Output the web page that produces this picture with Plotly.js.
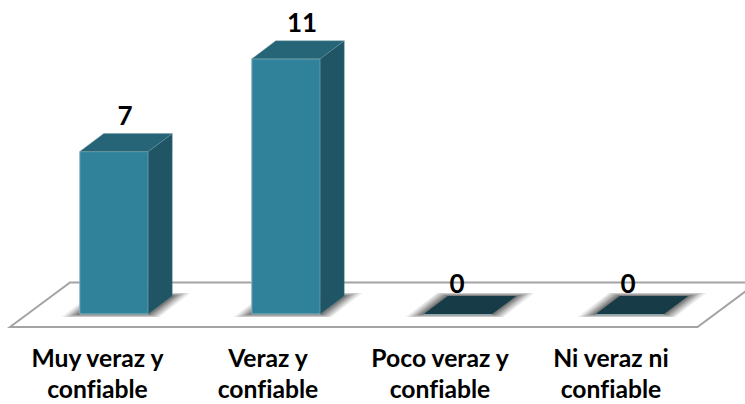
<!DOCTYPE html>
<html>
<head>
<meta charset="utf-8">
<script src="https://cdn.plot.ly/plotly-3.0.1.min.js"></script>
<style>html,body{margin:0;padding:0;background:#fff;overflow:hidden}
svg text, svg tspan{font-variant-ligatures:none !important;font-feature-settings:"liga" 0,"clig" 0,"dlig" 0 !important;letter-spacing:0.01px}</style>
</head>
<body>
<div id="chart" style="width:745px;height:404px"></div>
<script>
const categories = ["Muy veraz y", "Veraz y", "Poco veraz y", "Ni veraz ni"];
const categories2 = ["confiable", "confiable", "confiable", "confiable"];
const values = [7, 11, 0, 0];

// Scales: one category = 172px, one value unit = 23.2px
const W = 745, H = 404, marginB = 62;
const pxX = 172, pxY = 23.2, baseX = 114, baseY = 314;
const sx = px => px / pxX, sy = px => px / pxY;
const xRange = [-baseX / pxX, (W - baseX) / pxX];
const yRange = [-(H - marginB - baseY) / pxY, baseY / pxY];
const barW = 0.398, dx = sx(24), dy = sy(18);
const xs = values.map((_, i) => i);

const FRONT = "#2f8299", SIDE = "#1f5565", TOP = "#256577", ZERO = "#173c47", EDGE = "#8fb4bf";

function poly(px, py, color, line) {
  return {type: "scatter", mode: "lines", x: px.concat(px[0]), y: py.concat(py[0]),
    fill: "toself", fillcolor: color, hoverinfo: "skip", showlegend: false,
    line: line || {width: 0, color: color}};
}
function path(pts) {
  return "M" + pts.map(p => p[0] + "," + p[1]).join("L") + "Z";
}

// Floor (background plane)
const fl = sx(10) + xRange[0], fr = sx(697.5) + xRange[0], fy = sy(-13);
const shapes = [{
  type: "path", layer: "below", xref: "x", yref: "y",
  path: path([[fl, fy], [fl + sx(60), fy + sy(44.5)], [fr + sx(60), fy + sy(44.5)], [fr, fy]]),
  fillcolor: "#ffffff", line: {color: "#a3a3a3", width: 2}
}];

// Blurred base shadows: nested parallelograms on the floor
const blur = [[18, 0.10], [15, 0.12], [12, 0.15], [9, 0.18], [6, 0.22], [3, 0.28]];
xs.forEach(i => {
  const l = i - barW / 2, r = i + barW / 2;
  blur.forEach(([g, a]) => {
    const e = sx(g), ey = Math.min(g * 0.2, 3);
    shapes.push({
      type: "path", layer: "below", xref: "x", yref: "y",
      path: path([[l - e, -sy(ey)], [l + dx - e * 0.6, dy + sy(ey)], [r + dx + e, dy + sy(ey)], [r + e * 0.6, -sy(ey)]]),
      fillcolor: "rgba(60,60,60," + a + ")", line: {width: 0}
    });
  });
});

const traces = [{
  type: "bar", x: xs, y: values, width: barW,
  marker: {color: FRONT, line: {color: EDGE, width: 1}},
  hoverinfo: "skip", showlegend: false
}];

values.forEach((v, i) => {
  const l = i - barW / 2, r = i + barW / 2;
  if (v > 0) {
    traces.push(poly([r, r + dx, r + dx, r], [0, dy, v + dy, v], SIDE, {width: 0.4, color: "#4f7f8c"}));
  }
  traces.push(poly([l, r, r + dx, l + dx], [v, v, v + dy, v + dy], v > 0 ? TOP : ZERO,
    v > 0 ? {width: 0.4, color: "#6f99a5"} : {width: 0, color: ZERO}));
});

// Value labels
const labelShiftPx = [11, 16, -1, -2];
traces.push({
  type: "scatter", mode: "text", x: xs.map(i => i + sx(labelShiftPx[i])),
  y: values.map(v => v + sy(v > 0 ? 33.5 : 27.5)),
  text: values.map(String), textposition: "middle center",
  textfont: {family: "Lato, Carlito, sans-serif", size: 26, color: "#000", weight: 700},
  cliponaxis: false, hoverinfo: "skip", showlegend: false
});

const tickText = categories.map((c, i) =>
  '<b><span style="font-size:24.7px">' + c + '</span><br><span style="font-size:24.7px">' + categories2[i] + '</span></b>');
const tickShiftPx = [-16.5, -18, -18, -19];

const layout = {
  width: W, height: H,
  margin: {l: 0, r: 0, t: 0, b: marginB, pad: 0},
  paper_bgcolor: "#fff", plot_bgcolor: "rgba(0,0,0,0)",
  showlegend: false, shapes: shapes,
  xaxis: {type: "linear", range: xRange, tickmode: "array",
    tickvals: xs.map(i => i + sx(tickShiftPx[i])), ticktext: tickText,
    showgrid: false, zeroline: false, showline: false, ticks: "", ticklen: 0,
    tickangle: 0, automargin: false,
    tickfont: {family: "Lato, Carlito, sans-serif", size: 24, color: "#000"}},
  yaxis: {range: yRange, visible: false, showgrid: false, zeroline: false, fixedrange: true}
};
Plotly.newPlot("chart", traces, layout, {displayModeBar: false, staticPlot: true});
</script>
</body>
</html>
